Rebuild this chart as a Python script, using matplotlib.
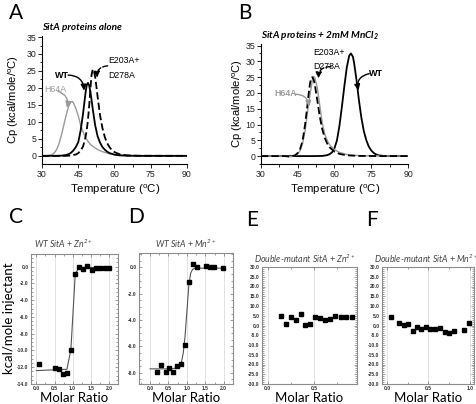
import matplotlib
matplotlib.use('Agg')
import matplotlib.pyplot as plt
from matplotlib.ticker import MultipleLocator, AutoMinorLocator, FixedLocator

plt.rcParams['mathtext.default'] = 'regular'
plt.rcParams['font.family'] = ['Liberation Sans', 'DejaVu Sans']

# ---------------- data: DSC (panel A, proteins alone) ----------------
a_h64a_T = [30, 32, 34, 35, 36, 37, 38, 39, 40, 41, 42, 42.5, 43, 44, 45, 46, 47, 48, 49, 50, 52, 54, 56, 58, 60, 63, 66, 70, 80, 90]
a_h64a_cp = [0, 0.05, 0.3, 0.8, 1.8, 3.5, 6.0, 9.0, 12.0, 14.6, 15.9, 16.0, 15.6, 14.0, 11.8, 9.0, 7.0, 5.4, 4.3, 3.4, 2.3, 1.5, 1.0, 0.6, 0.35, 0.15, 0.05, 0.02, 0, 0]

a_wt_T = [30, 36, 38, 40, 41, 42, 43, 44, 45, 46, 47, 47.5, 48, 48.5, 49, 49.5, 50, 50.5, 51, 52, 53, 54, 55, 56, 57, 58, 60, 62, 65, 70, 90]
a_wt_cp = [0, 0, 0.05, 0.25, 0.5, 0.9, 1.6, 2.6, 4.0, 7.5, 12.5, 15.5, 18.5, 20.8, 21.5, 20.8, 19.0, 16.5, 13.8, 9.0, 5.8, 3.9, 2.6, 1.8, 1.2, 0.8, 0.35, 0.15, 0.05, 0, 0]

a_mut_T = [30, 40, 42, 44, 45, 46, 47, 48, 48.5, 49, 49.5, 50, 50.5, 51, 51.5, 52, 52.5, 53, 54, 55, 56, 57, 58, 59, 60, 62, 65, 70, 90]
a_mut_cp = [0, 0, 0.1, 0.4, 0.8, 1.5, 2.8, 5.5, 7.5, 10.5, 14.5, 19.5, 23.8, 25.5, 25.0, 23.2, 20.5, 17.5, 12.0, 8.2, 5.5, 3.7, 2.5, 1.6, 1.1, 0.5, 0.15, 0.03, 0]

# ---------------- data: DSC (panel B, + 2 mM MnCl2) ----------------
b_h64a_T = [30, 40, 42, 44, 45, 46, 47, 48, 49, 50, 51, 51.5, 52, 53, 54, 55, 56, 57, 58, 60, 62, 65, 68, 72, 90]
b_h64a_cp = [0, 0, -0.2, 0.2, 0.7, 1.8, 4.0, 8.0, 14.0, 19.5, 24.2, 25.2, 24.8, 21.5, 16.0, 10.5, 7.0, 5.0, 3.6, 2.0, 1.2, 0.5, 0.25, 0.1, 0]

b_mut_T = [30, 40, 42, 44, 45, 46, 47, 48, 49, 49.5, 50, 50.5, 51, 51.5, 52, 53, 54, 55, 56, 57, 58, 60, 62, 65, 70, 90]
b_mut_cp = [0, 0, -0.2, 0.3, 1.0, 2.3, 5.0, 10.0, 16.5, 20.0, 23.0, 24.8, 25.0, 24.2, 22.5, 17.5, 12.5, 8.5, 5.8, 4.0, 2.8, 1.4, 0.7, 0.25, 0.05, 0]

b_wt_T = [30, 50, 55, 57, 58, 59, 60, 61, 62, 63, 64, 65, 66, 66.7, 67.5, 68, 69, 70, 71, 72, 73, 74, 75, 76, 77, 78, 80, 90]
b_wt_cp = [0, 0, 0.05, 0.3, 0.6, 1.2, 2.5, 5.0, 9.5, 15.5, 22.0, 28.0, 31.8, 32.5, 31.5, 29.5, 24.0, 17.5, 12.0, 7.8, 5.0, 3.0, 1.8, 1.0, 0.5, 0.25, 0.05, 0]

# ---------------- data: ITC ----------------
c_x = [0.08, 0.52, 0.62, 0.74, 0.84, 0.95, 1.07, 1.17, 1.29, 1.40, 1.52, 1.64, 1.75, 1.88, 1.99]
c_y = [-11.65, -12.05, -12.25, -12.8, -12.65, -9.9, -0.9, 0.0, -0.3, 0.1, -0.35, -0.15, -0.15, -0.15, -0.15]
c_fit_x = [0.0, 0.84, 0.95, 1.07, 1.17, 2.0]
c_fit_y = [-12.4, -12.25, -9.9, -0.95, -0.1, -0.1]

d_x = [0.2, 0.31, 0.42, 0.51, 0.62, 0.72, 0.84, 0.94, 1.06, 1.16, 1.28, 1.51, 1.63, 1.74, 1.98]
d_y = [-7.95, -7.37, -7.97, -7.67, -7.95, -7.47, -7.34, -5.85, -1.14, 0.28, 0.05, 0.15, 0.05, 0.05, -0.03]
d_fit_x = [0.0, 0.5, 0.7, 0.8, 0.85, 0.9, 0.95, 1.0, 1.05, 1.1, 1.15, 1.2, 1.3, 1.5, 2.0]
d_fit_y = [-7.7, -7.7, -7.65, -7.5, -7.2, -6.5, -5.2, -3.3, -1.4, -0.45, -0.15, -0.08, -0.05, -0.05, -0.05]

e_x = [0.145, 0.196, 0.246, 0.301, 0.355, 0.402, 0.457, 0.511, 0.565, 0.62, 0.674, 0.728, 0.786, 0.844, 0.906]
e_y = [4.7, 0.9, 4.2, 2.9, 6.1, 0.2, 0.7, 4.6, 3.8, 2.6, 3.3, 5.0, 4.4, 4.5, 4.6]

f_x = [0.05, 0.15, 0.205, 0.257, 0.31, 0.36, 0.41, 0.47, 0.52, 0.58, 0.64, 0.70, 0.75, 0.81, 0.93, 0.99]
f_y = [4.4, 1.3, 0.3, 0.6, -2.7, -1.0, -1.8, -0.6, -1.7, -1.55, -1.25, -3.1, -3.9, -2.7, -2.5, 1.3]

# ---------------- figure ----------------
W, H = 477, 404
fig = plt.figure(figsize=(W / 100, H / 100), dpi=100)


def ax_at(l, t, r, b):
    return fig.add_axes([l / W, 1 - b / H, (r - l) / W, (b - t) / H])


GRAY = '#9a9a9a'
CAL = ['Lato', 'DejaVu Sans']
HEAD = '-|>,head_length=0.35,head_width=0.17'


def style_dsc(ax, ylim):
    ax.set_xlim(30, 90)
    ax.set_ylim(*ylim)
    ax.spines['top'].set_visible(False)
    ax.spines['right'].set_visible(False)
    for s in ('left', 'bottom'):
        ax.spines[s].set_linewidth(0.8)
    ax.xaxis.set_major_locator(MultipleLocator(15))
    ax.xaxis.set_minor_locator(MultipleLocator(7.5))
    ax.yaxis.set_major_locator(MultipleLocator(5))
    ax.yaxis.set_minor_locator(MultipleLocator(2.5))
    ax.tick_params(which='major', length=3, width=0.7, labelsize=6.3, pad=1.0, colors='#222')
    ax.tick_params(which='minor', length=1.8, width=0.6)


def arrow(ax, head, tail, color='black', rad=-0.45, ls='-'):
    ax.annotate('', xy=head, xytext=tail,
                arrowprops=dict(arrowstyle=HEAD, color=color, lw=1.0, ls=ls,
                                connectionstyle='arc3,rad=%g' % rad, shrinkA=0, shrinkB=0))


# Panel A
axA = ax_at(42, 36, 187, 164)
style_dsc(axA, (-2.4, 35.3))
axA.plot(a_h64a_T, a_h64a_cp, color=GRAY, lw=1.0)
axA.plot(a_wt_T, a_wt_cp, color='black', lw=1.3)
axA.plot(a_mut_T, a_mut_cp, color='black', lw=1.3, ls=(0, (4, 1.8)))

axA.text(38.2, 23.8, 'WT', fontsize=6.5, fontweight='bold', ha='center', va='center')
arrow(axA, (47.4, 19.2), (40.8, 23.8), rad=-0.45)
axA.text(57.6, 28.0, 'E203A+', fontsize=6.3, ha='left', va='center')
axA.text(57.6, 23.6, 'D278A', fontsize=6.3, ha='left', va='center')
arrow(axA, (52.8, 23.0), (57.2, 26.5), rad=0.5, ls='--')
axA.text(31.0, 19.6, 'H64A', fontsize=6.3, color=GRAY, ha='left', va='center')
arrow(axA, (40.3, 14.2), (36.6, 19.0), color=GRAY, rad=-0.45)

# Panel B
axB = ax_at(261, 44, 408, 164)
style_dsc(axB, (-2.5, 35.5))
axB.plot(b_wt_T, b_wt_cp, color='black', lw=1.3)
axB.plot(b_h64a_T, b_h64a_cp, color=GRAY, lw=1.0)
axB.plot(b_mut_T, b_mut_cp, color='black', lw=1.3, ls=(0, (4, 1.8)))

axB.text(51.2, 32.8, 'E203A+', fontsize=6.3, ha='left', va='center')
axB.text(51.2, 28.5, 'D278A', fontsize=6.3, ha='left', va='center')
arrow(axB, (53.4, 24.6), (58.6, 28.3), rad=0.5, ls='--')
axB.text(35.6, 19.9, 'H64A', fontsize=6.3, color=GRAY, ha='left', va='center', fontweight='bold')
arrow(axB, (49.6, 15.6), (43.8, 19.6), color=GRAY, rad=-0.45)
axB.text(76.8, 26.3, 'WT', fontsize=6.5, fontweight='bold', ha='center', va='center')
arrow(axB, (69.8, 20.8), (74.2, 26.1), rad=0.5)

# titles / labels top
fig.text(42 / W, 1 - 27 / H, 'SitA proteins alone', fontsize=7.2, fontstyle='italic', fontweight='bold',
         family=CAL, ha='left', va='center')
fig.text(261 / W, 1 - 36 / H, 'SitA proteins + 2mM MnCl$_2$', fontsize=7.2, fontstyle='italic',
         fontweight='bold', family=CAL, ha='left', va='center')
for lx, ly in [(14, 100), (238, 104)]:
    fig.text(lx / W, 1 - ly / H, 'Cp (kcal/mole/$^{o}$C)', fontsize=8.0, rotation=90, ha='center', va='center')
for cx in (115, 335):
    fig.text(cx / W, 1 - 193 / H, 'Temperature ($^{o}$C)', fontsize=8.2, ha='center', va='baseline')

for letter, x, y in [('A', 9, 3), ('B', 238, 3), ('C', 9, 207), ('D', 128, 207), ('E', 246, 210), ('F', 366, 210)]:
    fig.text(x / W, 1 - y / H, letter, fontsize=15, family=CAL, ha='left', va='top')


# ---------------- ITC panels ----------------
def style_itc(ax, xlim, ylim, xt, yt, ymin_step):
    ax.set_xlim(*xlim)
    ax.set_ylim(*ylim)
    ax.xaxis.set_major_locator(FixedLocator(xt))
    ax.yaxis.set_major_locator(FixedLocator(yt))
    ax.xaxis.set_minor_locator(AutoMinorLocator(2))
    ax.yaxis.set_minor_locator(MultipleLocator(ymin_step))
    ax.set_xticklabels(['%.1f' % v for v in xt])
    ax.set_yticklabels(['%.1f' % v for v in yt])
    for s in ax.spines.values():
        s.set_color('#8c8c8c')
        s.set_linewidth(0.8)
    ax.tick_params(which='both', direction='in', top=True, right=True, colors='#777', width=0.5)
    ax.tick_params(which='major', length=2.2, labelsize=3.6, labelcolor='#333', pad=1.8)
    ax.tick_params(which='minor', length=1.2)
    for lab in ax.get_xticklabels() + ax.get_yticklabels():
        lab.set_fontweight('bold')
    ax.grid(axis='x', which='major', color='#dcdcdc', lw=0.6)
    ax.set_axisbelow(True)


axC = ax_at(31, 254, 118, 384)
style_itc(axC, (-0.15, 2.25), (-14, 1.5), [0, 0.5, 1.0, 1.5, 2.0], list(range(-14, 1, 2)), 0.5)
axC.plot(c_fit_x, c_fit_y, color='#555', lw=0.8)
axC.plot(c_x, c_y, 's', color='black', ms=2.3)

axD = ax_at(139, 253, 233, 384)
style_itc(axD, (-0.3, 2.25), (-8.85, 1.1), [0, 0.5, 1.0, 1.5, 2.0], list(range(-8, 1, 2)), 0.5)
axD.plot(d_fit_x, d_fit_y, color='#555', lw=0.8)
axD.plot(d_x, d_y, 's', color='black', ms=2.3)

axE = ax_at(262, 267, 357, 384)
style_itc(axE, (-0.06, 0.96), (-30, 30), [0, 0.5], list(range(-30, 31, 5)), 1)
axE.plot(e_x, e_y, 's', color='black', ms=2.3)

axF = ax_at(382, 267, 474, 384)
style_itc(axF, (-0.06, 1.05), (-30, 30), [0, 0.5, 1.0], list(range(-30, 31, 5)), 1)
axF.plot(f_x, f_y, 's', color='black', ms=2.3)

for t, cx, cy in [('WT SitA + Zn$^{2+}$', 64, 244), ('WT SitA + Mn$^{2+}$', 186, 244),
                  ('Double-mutant SitA + Zn$^{2+}$', 305, 259), ('Double-mutant SitA + Mn$^{2+}$', 426, 259)]:
    fig.text(cx / W, 1 - cy / H, t, fontsize=6.3, fontstyle='italic', color='#444', family=CAL,
             ha='center', va='center')

for ax in (axC, axD, axE, axF):
    pos = ax.get_position()
    fig.text((pos.x0 + pos.x1) / 2, 1 - 398 / H, 'Molar Ratio', fontsize=9.5, family=CAL,
             ha='center', va='center')
fig.text(9.5 / W, 1 - 318 / H, 'kcal/mole injectant', fontsize=9.5, family=CAL, rotation=90,
         ha='center', va='center')

fig.savefig('out.png', dpi=100)
